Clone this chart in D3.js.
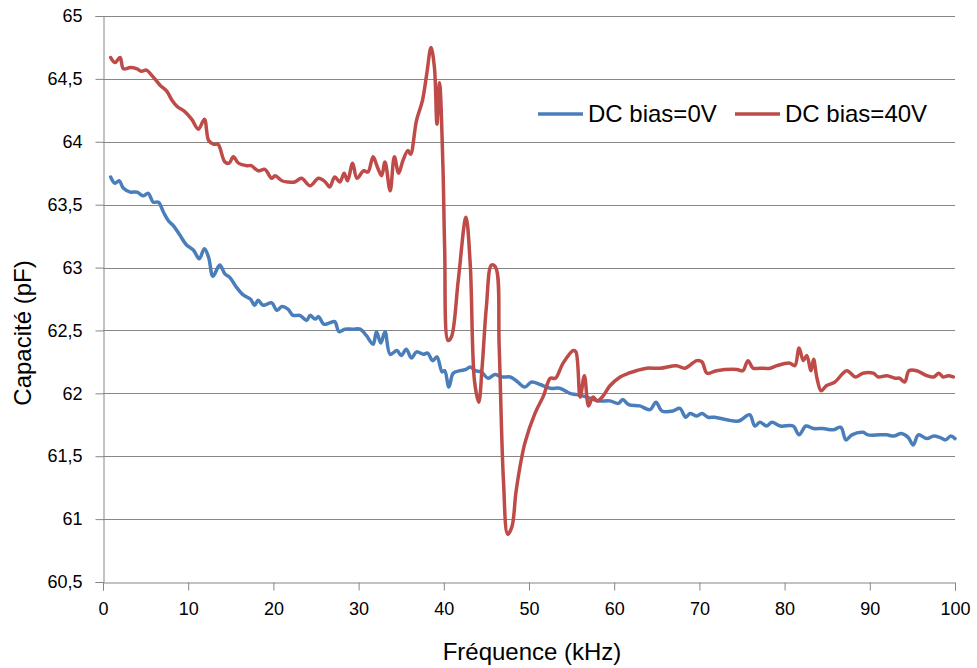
<!DOCTYPE html>
<html>
<head>
<meta charset="utf-8">
<script src="https://cdn.jsdelivr.net/npm/d3@7"></script>
<style>
  html, body { margin: 0; padding: 0; background: #fff; }
  svg { display: block; }
  text { font-family: "Liberation Sans", Arial, sans-serif; fill: #000; }
</style>
</head>
<body>
<svg id="chart" width="977" height="668"></svg>
<script>
// ---- Data ----
const freq0 = [0.9,1.4,1.9,2.4,3.2,4.0,4.7,5.3,5.9,6.5,7.1,7.7,8.3,9.0,9.8,10.6,11.3,11.9,12.4,12.9,13.7,14.3,14.9,15.7,16.5,17.3,17.8,18.2,18.8,19.8,20.4,21.0,21.7,22.3,23.1,23.9,24.3,24.9,25.3,25.9,26.6,27.2,27.7,28.4,29.3,30.2,30.9,31.7,32.1,32.6,33.1,33.7,34.5,35.0,35.6,36.2,36.8,37.6,38.1,38.7,39.2,39.8,40.1,40.6,41.1,41.9,42.6,43.1,43.7,44.4,45.2,46.0,46.8,47.8,48.5,49.5,50.3,51.3,52.5,53.6,54.8,55.6,56.8,58.1,59.5,60.5,61.0,61.7,63.0,64.2,64.9,65.6,66.9,67.7,68.4,68.9,69.7,70.3,71.0,71.8,73.2,74.6,75.9,76.5,77.1,77.9,78.5,79.5,81.0,81.7,82.5,83.4,84.5,85.7,86.6,87.2,87.9,89.2,89.8,91.2,92.0,92.8,93.7,94.5,95.1,95.7,96.7,97.5,98.2,98.9,99.5,100.0];
const cap0 = [63.72,63.67,63.69,63.63,63.60,63.60,63.57,63.59,63.52,63.52,63.44,63.37,63.33,63.26,63.18,63.14,63.07,63.15,63.08,62.93,63.02,62.95,62.92,62.84,62.78,62.75,62.70,62.74,62.70,62.72,62.66,62.69,62.67,62.62,62.62,62.58,62.62,62.59,62.61,62.55,62.56,62.57,62.49,62.51,62.51,62.51,62.46,62.39,62.49,62.40,62.49,62.31,62.34,62.30,62.35,62.28,62.33,62.31,62.32,62.26,62.29,62.17,62.18,62.05,62.16,62.18,62.19,62.21,62.18,62.17,62.12,62.15,62.13,62.13,62.10,62.05,62.09,62.07,62.04,62.04,62.00,61.99,61.97,61.94,61.94,61.92,61.95,61.91,61.90,61.87,61.93,61.86,61.86,61.88,61.81,61.84,61.82,61.84,61.81,61.81,61.79,61.78,61.83,61.74,61.77,61.74,61.77,61.74,61.74,61.67,61.74,61.72,61.72,61.71,61.73,61.63,61.67,61.69,61.67,61.67,61.67,61.66,61.68,61.65,61.59,61.67,61.64,61.66,61.65,61.63,61.66,61.64];

const freq40 = [0.9,1.4,2.0,2.4,3.2,4.0,4.5,5.1,5.7,6.7,7.5,8.1,8.7,9.6,10.4,11.2,11.9,12.4,13.0,13.5,14.3,14.8,15.3,15.9,16.9,17.4,18.2,19.0,19.8,20.2,21.0,21.7,22.5,23.3,24.3,25.3,26.1,26.6,27.2,27.8,28.3,28.7,29.3,29.8,30.6,31.1,31.7,32.2,32.7,33.1,33.7,34.2,34.7,35.2,35.8,36.1,36.8,37.5,38.0,38.5,38.9,39.2,39.5,39.9,40.1,40.5,40.9,41.7,42.6,43.1,43.6,44.1,44.5,45.0,45.6,46.1,46.5,47.0,47.5,48.0,48.5,49.5,50.7,51.7,52.5,53.1,54.0,55.2,55.5,56.0,56.5,57.0,57.5,58.0,58.7,59.5,60.7,61.7,62.6,63.8,65.4,67.3,68.3,69.7,70.3,70.9,72.0,74.4,75.1,75.7,76.3,77.1,78.3,79.1,80.6,81.2,81.7,82.2,82.6,83.1,83.4,83.8,84.3,84.9,85.9,87.3,88.3,89.2,90.4,91.0,92.0,93.0,93.5,94.1,94.6,95.5,96.7,97.5,98.1,98.6,99.2,99.8];
const cap40 = [64.67,64.63,64.67,64.58,64.59,64.58,64.56,64.57,64.53,64.45,64.40,64.33,64.28,64.24,64.18,64.10,64.18,64.01,63.98,63.98,63.84,63.83,63.88,63.83,63.81,63.81,63.77,63.78,63.71,63.73,63.69,63.68,63.68,63.71,63.65,63.71,63.68,63.64,63.72,63.68,63.75,63.69,63.83,63.71,63.77,63.76,63.88,63.80,63.73,63.84,63.61,63.88,63.75,63.85,63.93,63.90,64.17,64.33,64.54,64.75,64.59,64.14,64.47,63.80,63.16,62.42,62.45,62.90,63.40,63.03,62.10,61.93,62.21,62.69,63.02,63.00,62.37,61.31,60.88,60.94,61.23,61.60,61.84,61.98,62.12,62.12,62.24,62.34,62.33,61.97,62.14,61.90,61.97,61.94,61.98,62.06,62.13,62.16,62.18,62.20,62.20,62.22,62.20,62.26,62.25,62.16,62.18,62.19,62.18,62.26,62.20,62.20,62.20,62.22,62.24,62.22,62.36,62.26,62.30,62.18,62.27,62.12,62.02,62.06,62.09,62.18,62.13,62.16,62.16,62.13,62.14,62.12,62.12,62.09,62.18,62.18,62.14,62.13,62.16,62.13,62.14,62.13];

const seriesNames = ["DC bias=0V", "DC bias=40V"];
const seriesColors = ["#4A7EBB", "#BE4B48"];
const xTicks = [0,10,20,30,40,50,60,70,80,90,100];
const yTicks = [60.5,61,61.5,62,62.5,63,63.5,64,64.5,65];
const xTitle = "Fréquence (kHz)";
const yTitle = "Capacité (pF)";

// ---- Layout ----
const svg = d3.select("#chart");
const L = 103, R = 955, T = 16, B = 582;
const x = d3.scaleLinear().domain([0, 100]).range([L, R]);
const y = d3.scaleLinear().domain([60.5, 65]).range([B, T]);
const gridColor = "#868686";
const fmt = d => String(d).replace(".", ",");

// gridlines
svg.append("g").selectAll("line").data(yTicks.filter(d => d > 60.5)).join("line")
  .attr("x1", L).attr("x2", R)
  .attr("y1", d => Math.round(y(d)) + 0.5).attr("y2", d => Math.round(y(d)) + 0.5)
  .attr("stroke", gridColor).attr("stroke-width", 1);

// y axis
const yAxis = svg.append("g").attr("transform", `translate(${L + 0.5},0)`)
  .call(d3.axisLeft(y).tickValues(yTicks).tickFormat(fmt).tickSize(8).tickPadding(13));
yAxis.select(".domain").attr("stroke", gridColor);
yAxis.selectAll(".tick line").attr("stroke", gridColor);
yAxis.selectAll(".tick text").attr("font-size", "18px")
  .attr("font-family", "'Liberation Sans', Arial, sans-serif").attr("fill", "#000");

// x axis
const xAxis = svg.append("g").attr("transform", `translate(0,${B + 0.5})`)
  .call(d3.axisBottom(x).tickValues(xTicks).tickFormat(d3.format("d")).tickSize(8).tickPadding(12));
xAxis.select(".domain").attr("stroke", gridColor);
xAxis.selectAll(".tick line").attr("stroke", gridColor);
xAxis.selectAll(".tick text").attr("font-size", "18px")
  .attr("font-family", "'Liberation Sans', Arial, sans-serif").attr("fill", "#000");

// lines
const series = [
  freq0.map((f, i) => [f, cap0[i]]),
  freq40.map((f, i) => [f, cap40[i]])
];
const line = d3.line().x(d => x(d[0])).y(d => y(d[1])).curve(d3.curveCatmullRom.alpha(0.5));
svg.append("g").selectAll("path").data(series).join("path")
  .attr("d", line).attr("fill", "none")
  .attr("stroke", (d, i) => seriesColors[i])
  .attr("stroke-width", 3.5).attr("stroke-linejoin", "round").attr("stroke-linecap", "round");

// axis titles
svg.append("text").attr("x", 532).attr("y", 660).attr("text-anchor", "middle")
  .attr("font-size", "24px").text(xTitle);
svg.append("text").attr("transform", "translate(31,333) rotate(-90)").attr("text-anchor", "middle")
  .attr("font-size", "24px").text(yTitle);

// legend
const legendX = [538, 735];
const lg = svg.append("g").selectAll("g").data(seriesNames).join("g")
  .attr("transform", (d, i) => `translate(${legendX[i]},114)`);
lg.append("line").attr("x1", 0).attr("x2", 45).attr("y1", 0).attr("y2", 0)
  .attr("stroke", (d, i) => seriesColors[i]).attr("stroke-width", 3.5);
lg.append("text").attr("x", 50).attr("y", 8).attr("font-size", "24px").text(d => d);
</script>
</body>
</html>
